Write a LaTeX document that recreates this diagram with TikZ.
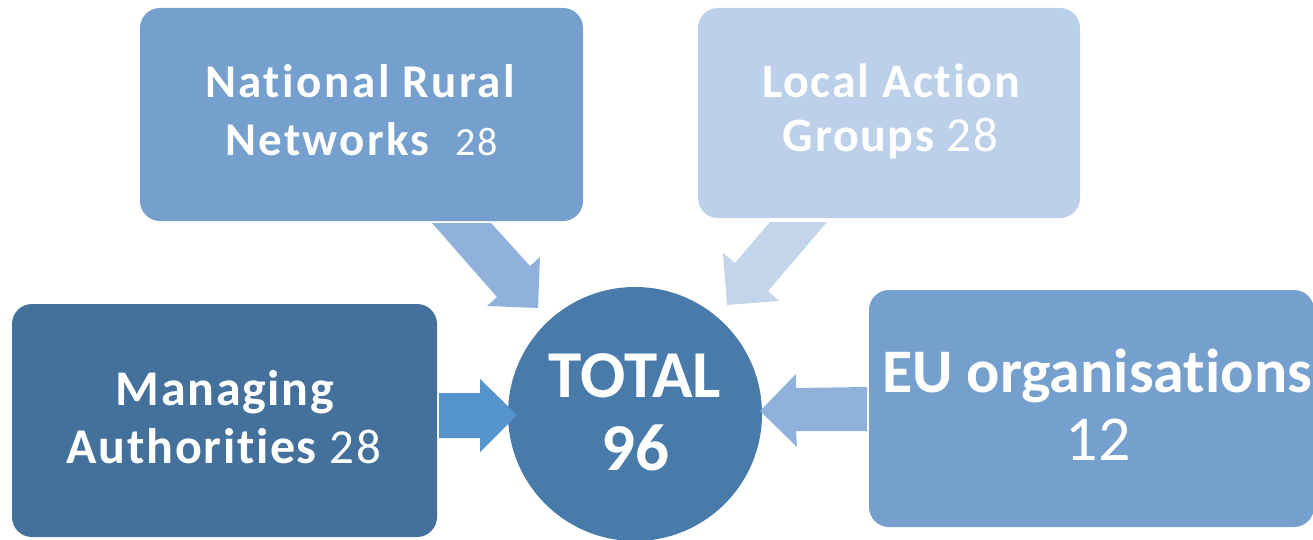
\documentclass[tikz,border=0pt]{standalone}
\usepackage{fontspec}
\setmainfont{Carlito}[Ligatures={NoCommon}]
\definecolor{nrnC}{HTML}{75A0CD}
\definecolor{lagC}{HTML}{BCD0EA}
\definecolor{maC}{HTML}{44709C}
\definecolor{euC}{HTML}{75A0CD}
\definecolor{totC}{HTML}{487BAA}
\definecolor{arrA}{HTML}{8FB1DC}
\definecolor{arrL}{HTML}{C3D5EB}
\definecolor{arrM}{HTML}{5593CC}
\newcommand\myB[3]{{\bfseries\fontsize{#1}{#1}\selectfont\addfontfeature{LetterSpace=#2}#3}}
\newcommand\myR[3]{{\fontsize{#1}{#1}\selectfont\addfontfeature{LetterSpace=#2}#3}}
\begin{document}
\begin{tikzpicture}[x=1pt,y=-1pt,
  boxnode/.style={rectangle, rounded corners=20pt, inner sep=0pt, draw=none},
  txt/.style={anchor=base, inner sep=0pt, text=white},
  blockarrow/.style={draw=none}]
\useasboundingbox (0,0) rectangle (1313,540);
% boxes
\node[boxnode, fill=nrnC, minimum width=443pt, minimum height=213pt] (nrn) at (361.5,114.5) {};
\node[boxnode, fill=lagC, minimum width=382pt, minimum height=210pt] (lag) at (889,113) {};
\node[boxnode, fill=maC, minimum width=425pt, minimum height=233pt] (ma) at (224.5,420.5) {};
\node[boxnode, fill=euC, minimum width=445pt, minimum height=237pt] (eu) at (1091.5,408.5) {};
\node[circle, fill=totC, minimum size=254pt, inner sep=0pt] (tot) at (635,414) {};
% texts
\node[txt] (nrn1) at (360,98) {\myB{47}{5.4}{National Rural}};
\node[txt] (nrn2) at (361.5,156) {\myB{47}{4.8}{Networks\ \ }\myR{40}{5.2}{28}};
\node[txt] (lag1) at (891,98) {\myB{48}{3.6}{Local Action}};
\node[txt] (lag2) at (890.5,152) {\myB{48}{3.4}{Groups }\myR{49}{3.4}{28}};
\node[txt] (ma1) at (225,405) {\myB{50}{3.4}{Managing}};
\node[txt] (ma2) at (224,463) {\myB{50}{3.4}{Authorities }\myR{49}{3.4}{28}};
\node[txt] (eu1) at (1097,392) {\myB{62}{0}{EU organisations}};
\node[txt] (eu2) at (1098,460) {\myR{64}{0}{12}};
\node[txt] (tot1) at (635,397) {\myB{67}{0}{TOTAL}};
\node[txt] (tot2) at (635,470) {\myB{67}{0}{96}};
% block arrows
\fill[arrA, blockarrow] (432,223) -- (491,223) -- (530,266) -- (540,257) -- (538,308) -- (487,306) -- (497,297) -- cycle;
\fill[arrL, blockarrow] (770,222) -- (827,222) -- (768,291) -- (779,301) -- (727,305) -- (723,253) -- (735,263) -- cycle;
\fill[arrM, blockarrow] (439,393) -- (480,393) -- (480,379) -- (517,415) -- (480,452) -- (480,438) -- (439,438) -- cycle;
\fill[arrA, blockarrow] (867,387) -- (796,388) -- (796,374) -- (760,411) -- (797,447) -- (796,431) -- (867,431) -- cycle;
\end{tikzpicture}
\end{document}
